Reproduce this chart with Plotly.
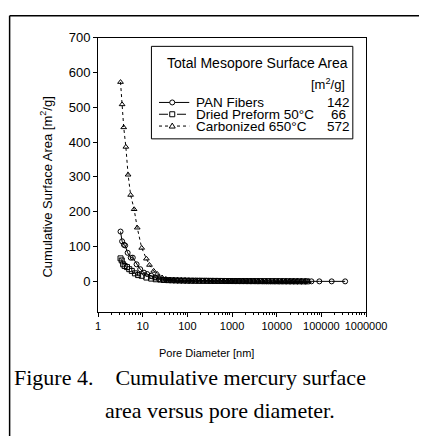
import plotly.graph_objects as go

W, H = 440, 436

# ---------------- data ----------------
pan_d = [3.19, 3.46, 3.8, 4.05, 4.6, 5.4, 6.0, 7.3, 8.8, 10.7, 12.6, 15.6, 19, 23,
         28, 34, 41, 50, 60, 72, 87, 105, 127, 153, 185, 223, 270, 325, 390, 470,
         570, 690, 830, 1000, 1210, 1460, 1760, 2120, 2560, 3090, 3720, 4490, 5420,
         6540, 7890, 9520, 11500, 13900, 16700, 20200, 24300, 29400, 36000, 45000,
         60000, 90000, 170000, 340000]
pan_v = [143, 115, 105, 103, 82, 68, 68, 49, 35, 25, 21, 16, 11, 6.5,
         4.5, 3.8, 3.3, 3.0, 2.7, 2.5, 2.3, 2.1, 2.0, 1.9, 1.8, 1.7, 1.6, 1.5, 1.4, 1.3,
         1.2, 1.1, 1.0, 1.0, 0.9, 0.9, 0.8, 0.8, 0.7, 0.7, 0.6, 0.6, 0.5,
         0.5, 0.4, 0.4, 0.3, 0.3, 0.3, 0.2, 0.2, 0.2, 0.1, 0.1,
         0.1, 0.0, 0.0, 0.0]

dried_d = [3.19, 3.4, 3.65, 3.95, 4.45, 5.0, 5.7, 6.7, 7.9, 9.5, 12.1, 15.5, 19.6, 24.9,
           30, 37, 45, 55, 67, 82, 100, 122, 150, 183, 223, 272, 332, 405, 494, 603,
           735, 897, 1100, 1340, 1630, 1990, 2430, 2960, 3610, 4400, 5370, 6550, 8000,
           9760, 11900, 14500, 17700, 21600, 26400, 32200, 39300, 48000]
dried_v = [66, 60, 49, 44, 41, 35, 30, 23, 18, 16, 11, 8, 6, 5,
           4.0, 3.5, 3.1, 2.8, 2.5, 2.3, 2.1, 1.9, 1.8, 1.7, 1.6, 1.5, 1.4, 1.3, 1.2, 1.1,
           1.0, 1.0, 0.9, 0.9, 0.8, 0.8, 0.7, 0.7, 0.6, 0.6, 0.5, 0.5, 0.4,
           0.4, 0.3, 0.3, 0.2, 0.2, 0.1, 0.1, 0.0, 0.0]

carb_d = [3.19, 3.46, 3.76, 4.2, 4.71, 5.37, 6.43, 7.55, 9.5, 12.1, 14.2, 17.6, 21.3, 27.2,
          33, 40, 49, 60, 73, 89, 108, 132, 161, 196, 239, 291, 355, 433, 528, 644,
          785, 958, 1170, 1430, 1740, 2120, 2590, 3160, 3850, 4700, 5730, 6990, 8530,
          10400, 12700, 15500, 18900, 23000, 28100, 34300, 41800, 51000]
carb_v = [572, 508, 442, 386, 306, 248, 207, 154, 96, 65, 47, 30, 21, 11,
          7, 5, 4, 3.5, 3.1, 2.8, 2.5, 2.3, 2.1, 1.9, 1.8, 1.7, 1.6, 1.5, 1.4, 1.3,
          1.2, 1.1, 1.0, 0.9, 0.9, 0.8, 0.8, 0.7, 0.6, 0.6, 0.5, 0.5, 0.4,
          0.4, 0.3, 0.3, 0.2, 0.2, 0.1, 0.1, 0.0, 0.0]

series_names = ["PAN Fibers", "Dried Preform 50°C", "Carbonized 650°C"]
series_totals = ["142", "66", "572"]
legend_title = "Total Mesopore Surface Area"
legend_unit = "[m<sup>2</sup>/g]"

x_tickvals = [1, 10, 100, 1000, 10000, 100000, 1000000]
x_ticktext = ["1", "10", "100", "1000", "10000", "100000", "1000000"]
y_tickvals = [0, 100, 200, 300, 400, 500, 600, 700]

x_title = "Pore Diameter [nm]"
y_title = "Cumulative Surface Area [m<sup>2</sup>/g]"
caption1 = "Figure 4.&nbsp;&nbsp;&nbsp;&nbsp;Cumulative mercury surface"
caption2 = "area versus pore diameter."

# ---------------- helpers ----------------
def px(x):
    return x / W

def py(y):
    return 1 - y / H

SANS = "Liberation Sans, Arial, sans-serif"
SERIF = "Liberation Serif, Times New Roman, serif"

fig = go.Figure()

styles = [
    dict(symbol="circle-open", dash="solid"),
    dict(symbol="square-open", dash="dash"),
    dict(symbol="triangle-up-open", dash="dot"),
]
for (d, v), name, st in zip([(pan_d, pan_v), (dried_d, dried_v), (carb_d, carb_v)],
                            series_names, styles):
    fig.add_trace(go.Scatter(
        x=d, y=v, name=name, mode="lines+markers",
        line=dict(color="black", width=1, dash=st["dash"]),
        marker=dict(symbol=st["symbol"], size=5, color="black",
                    line=dict(color="black", width=1)),
        showlegend=False,
    ))

minor_vals = [m * 10 ** e for e in range(0, 6) for m in range(2, 10)]

fig.update_layout(
    width=W, height=H,
    margin=dict(l=0, r=0, t=0, b=0),
    paper_bgcolor="white", plot_bgcolor="white",
    showlegend=False,
    xaxis=dict(
        type="log", range=[0, 6], domain=[px(100.5), px(384)],
        showline=True, linecolor="black", linewidth=1, mirror=True,
        showgrid=False, zeroline=False,
        ticks="outside", ticklen=4, tickcolor="black", tickwidth=1,
        tickvals=x_tickvals, ticktext=x_ticktext,
        tickfont=dict(family=SANS, size=11, color="black"),
        minor=dict(tickvals=minor_vals, ticks="outside", ticklen=2,
                   tickcolor="black", showgrid=False),
    ),
    yaxis=dict(
        range=[-88, 700], domain=[py(310), py(31)],
        showline=True, linecolor="black", linewidth=1, mirror=True,
        showgrid=False, zeroline=False,
        ticks="outside", ticklen=4, tickcolor="black", tickwidth=1,
        tickvals=y_tickvals,
        tickfont=dict(family=SANS, size=13, color="black"),
    ),
)

ann = []
# axis titles
ann.append(dict(text=x_title, x=px(215), y=py(352), xref="paper", yref="paper",
                xanchor="center", yanchor="middle", showarrow=False,
                font=dict(family=SANS, size=11, color="black")))
ann.append(dict(text=y_title, x=px(46), y=py(183), xref="paper", yref="paper",
                xanchor="center", yanchor="middle", showarrow=False, textangle=-90,
                font=dict(family=SANS, size=13, color="black")))
# legend texts
ann.append(dict(text=legend_title, x=px(367), y=py(57), xref="paper", yref="paper",
                xanchor="right", yanchor="middle", showarrow=False,
                font=dict(family=SANS, size=14, color="black")))
ann.append(dict(text=legend_unit, x=px(364), y=py(78), xref="paper", yref="paper",
                xanchor="right", yanchor="middle", showarrow=False,
                font=dict(family=SANS, size=13, color="black")))
rows = [97, 109, 121]
for name, tot, r in zip(series_names, series_totals, rows):
    ann.append(dict(text=name, x=px(202), y=py(r), xref="paper", yref="paper",
                    xanchor="left", yanchor="middle", showarrow=False,
                    font=dict(family=SANS, size=13.5, color="black")))
    ann.append(dict(text=tot, x=px(355), y=py(r), xref="paper", yref="paper",
                    xanchor="center", yanchor="middle", showarrow=False,
                    font=dict(family=SANS, size=13.5, color="black")))
# caption
ann.append(dict(text=caption1, x=px(9), y=py(377), xref="paper", yref="paper",
                xanchor="left", yanchor="middle", showarrow=False,
                font=dict(family=SERIF, size=22, color="black")))
ann.append(dict(text=caption2, x=px(106), y=py(410), xref="paper", yref="paper",
                xanchor="left", yanchor="middle", showarrow=False,
                font=dict(family=SERIF, size=22, color="black")))
fig.update_layout(annotations=ann)

shapes = []
# outer figure border (top and left)
shapes.append(dict(type="line", xref="paper", yref="paper", x0=px(7), x1=1,
                   y0=py(9), y1=py(9), line=dict(color="black", width=1.5)))
shapes.append(dict(type="line", xref="paper", yref="paper", x0=px(7), x1=px(7),
                   y0=py(9), y1=0, line=dict(color="black", width=1.5)))
# legend box
shapes.append(dict(type="rect", xref="paper", yref="paper", x0=px(157), x1=px(370),
                   y0=py(134), y1=py(40), line=dict(color="black", width=1),
                   fillcolor="white", layer="above"))
dashes = ["solid", "dash", "dot"]
for r, ds in zip(rows, dashes):
    shapes.append(dict(type="line", xref="paper", yref="paper", x0=px(165), x1=px(197),
                       y0=py(r), y1=py(r), line=dict(color="black", width=1, dash=ds)))
mx = px(179)
shapes.append(dict(type="circle", xref="paper", yref="paper", xsizemode="pixel",
                   ysizemode="pixel", xanchor=mx, yanchor=py(rows[0]),
                   x0=-2.5, x1=2.5, y0=-2.5, y1=2.5,
                   line=dict(color="black", width=1), fillcolor="white"))
shapes.append(dict(type="rect", xref="paper", yref="paper", xsizemode="pixel",
                   ysizemode="pixel", xanchor=mx, yanchor=py(rows[1]),
                   x0=-2.5, x1=2.5, y0=-2.5, y1=2.5,
                   line=dict(color="black", width=1), fillcolor="white"))
shapes.append(dict(type="path", xref="paper", yref="paper", xsizemode="pixel",
                   ysizemode="pixel", xanchor=mx, yanchor=py(rows[2]),
                   path="M -3,-2 L 3,-2 L 0,3 Z",
                   line=dict(color="black", width=1), fillcolor="white"))
fig.update_layout(shapes=shapes)

fig.write_html("out.html",
               post_script="document.body.style.margin='0px';")
